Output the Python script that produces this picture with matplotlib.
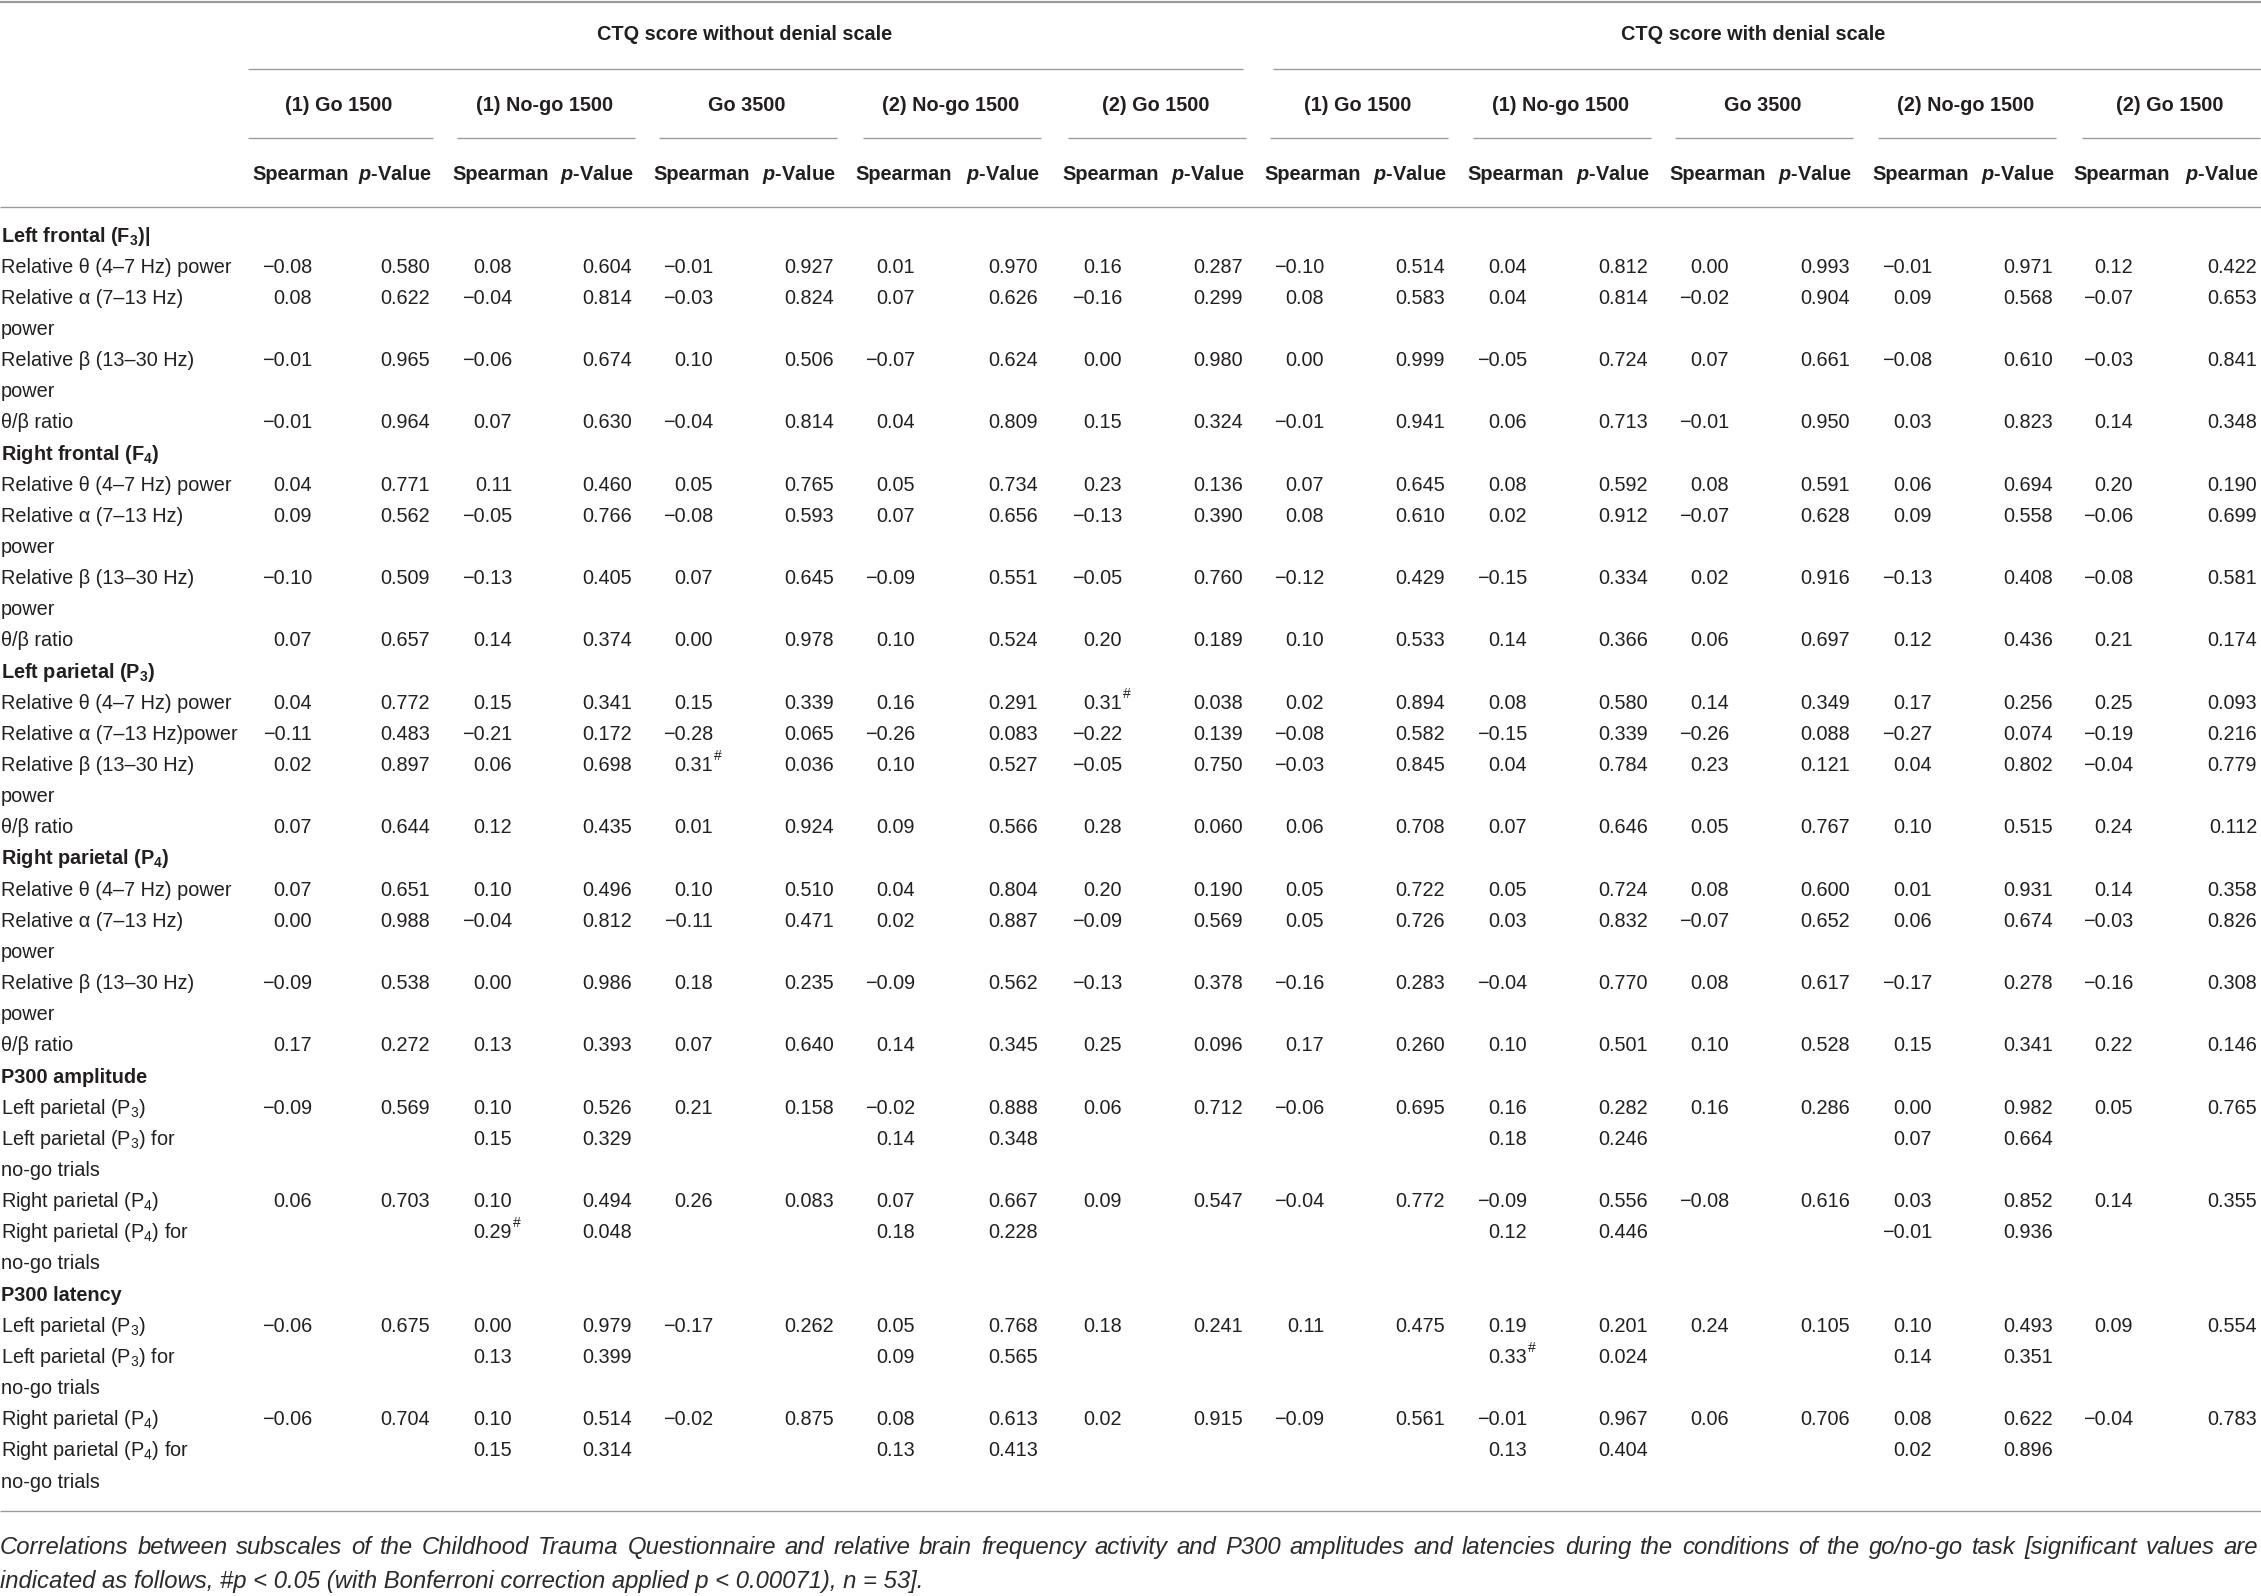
import matplotlib
matplotlib.use("Agg")
import matplotlib.pyplot as plt

# ---------------- data ----------------
groups = ["CTQ score without denial scale", "CTQ score with denial scale"]
conditions = ["(1) Go 1500", "(1) No-go 1500", "Go 3500", "(2) No-go 1500", "(2) Go 1500",
              "(1) Go 1500", "(1) No-go 1500", "Go 3500", "(2) No-go 1500", "(2) Go 1500"]
sub_headers = ["Spearman", r"$\mathbfit{p}$-Value"]

section_titles = [r"Left frontal (F$_\mathbf{3}$)|", r"Right frontal (F$_\mathbf{4}$)",
                  r"Left parietal (P$_\mathbf{3}$)", r"Right parietal (P$_\mathbf{4}$)",
                  "P300 amplitude", "P300 latency"]

band_labels = [["Relative θ (4–7 Hz) power"], ["Relative α (7–13 Hz)", "power"],
               ["Relative β (13–30 Hz)", "power"], ["θ/β ratio"]]
band_labels_lp = [["Relative θ (4–7 Hz) power"], ["Relative α (7–13 Hz)power"],
                  ["Relative β (13–30 Hz)", "power"], ["θ/β ratio"]]
p300_labels = [[r"Left parietal (P$_3$)"], [r"Left parietal (P$_3$) for", "no-go trials"],
               [r"Right parietal (P$_4$)"], [r"Right parietal (P$_4$) for", "no-go trials"]]

left_frontal_rho = [
    [-0.08, 0.08, -0.01, 0.01, 0.16, -0.10, 0.04, 0.00, -0.01, 0.12],
    [0.08, -0.04, -0.03, 0.07, -0.16, 0.08, 0.04, -0.02, 0.09, -0.07],
    [-0.01, -0.06, 0.10, -0.07, 0.00, 0.00, -0.05, 0.07, -0.08, -0.03],
    [-0.01, 0.07, -0.04, 0.04, 0.15, -0.01, 0.06, -0.01, 0.03, 0.14]]
left_frontal_p = [
    [0.580, 0.604, 0.927, 0.970, 0.287, 0.514, 0.812, 0.993, 0.971, 0.422],
    [0.622, 0.814, 0.824, 0.626, 0.299, 0.583, 0.814, 0.904, 0.568, 0.653],
    [0.965, 0.674, 0.506, 0.624, 0.980, 0.999, 0.724, 0.661, 0.610, 0.841],
    [0.964, 0.630, 0.814, 0.809, 0.324, 0.941, 0.713, 0.950, 0.823, 0.348]]

right_frontal_rho = [
    [0.04, 0.11, 0.05, 0.05, 0.23, 0.07, 0.08, 0.08, 0.06, 0.20],
    [0.09, -0.05, -0.08, 0.07, -0.13, 0.08, 0.02, -0.07, 0.09, -0.06],
    [-0.10, -0.13, 0.07, -0.09, -0.05, -0.12, -0.15, 0.02, -0.13, -0.08],
    [0.07, 0.14, 0.00, 0.10, 0.20, 0.10, 0.14, 0.06, 0.12, 0.21]]
right_frontal_p = [
    [0.771, 0.460, 0.765, 0.734, 0.136, 0.645, 0.592, 0.591, 0.694, 0.190],
    [0.562, 0.766, 0.593, 0.656, 0.390, 0.610, 0.912, 0.628, 0.558, 0.699],
    [0.509, 0.405, 0.645, 0.551, 0.760, 0.429, 0.334, 0.916, 0.408, 0.581],
    [0.657, 0.374, 0.978, 0.524, 0.189, 0.533, 0.366, 0.697, 0.436, 0.174]]

left_parietal_rho = [
    [0.04, 0.15, 0.15, 0.16, 0.31, 0.02, 0.08, 0.14, 0.17, 0.25],
    [-0.11, -0.21, -0.28, -0.26, -0.22, -0.08, -0.15, -0.26, -0.27, -0.19],
    [0.02, 0.06, 0.31, 0.10, -0.05, -0.03, 0.04, 0.23, 0.04, -0.04],
    [0.07, 0.12, 0.01, 0.09, 0.28, 0.06, 0.07, 0.05, 0.10, 0.24]]
left_parietal_p = [
    [0.772, 0.341, 0.339, 0.291, 0.038, 0.894, 0.580, 0.349, 0.256, 0.093],
    [0.483, 0.172, 0.065, 0.083, 0.139, 0.582, 0.339, 0.088, 0.074, 0.216],
    [0.897, 0.698, 0.036, 0.527, 0.750, 0.845, 0.784, 0.121, 0.802, 0.779],
    [0.644, 0.435, 0.924, 0.566, 0.060, 0.708, 0.646, 0.767, 0.515, 0.112]]
left_parietal_sig = [(0, 4), (2, 2)]

right_parietal_rho = [
    [0.07, 0.10, 0.10, 0.04, 0.20, 0.05, 0.05, 0.08, 0.01, 0.14],
    [0.00, -0.04, -0.11, 0.02, -0.09, 0.05, 0.03, -0.07, 0.06, -0.03],
    [-0.09, 0.00, 0.18, -0.09, -0.13, -0.16, -0.04, 0.08, -0.17, -0.16],
    [0.17, 0.13, 0.07, 0.14, 0.25, 0.17, 0.10, 0.10, 0.15, 0.22]]
right_parietal_p = [
    [0.651, 0.496, 0.510, 0.804, 0.190, 0.722, 0.724, 0.600, 0.931, 0.358],
    [0.988, 0.812, 0.471, 0.887, 0.569, 0.726, 0.832, 0.652, 0.674, 0.826],
    [0.538, 0.986, 0.235, 0.562, 0.378, 0.283, 0.770, 0.617, 0.278, 0.308],
    [0.272, 0.393, 0.640, 0.345, 0.096, 0.260, 0.501, 0.528, 0.341, 0.146]]

N = None
p300_amp_rho = [
    [-0.09, 0.10, 0.21, -0.02, 0.06, -0.06, 0.16, 0.16, 0.00, 0.05],
    [N, 0.15, N, 0.14, N, N, 0.18, N, 0.07, N],
    [0.06, 0.10, 0.26, 0.07, 0.09, -0.04, -0.09, -0.08, 0.03, 0.14],
    [N, 0.29, N, 0.18, N, N, 0.12, N, -0.01, N]]
p300_amp_p = [
    [0.569, 0.526, 0.158, 0.888, 0.712, 0.695, 0.282, 0.286, 0.982, 0.765],
    [N, 0.329, N, 0.348, N, N, 0.246, N, 0.664, N],
    [0.703, 0.494, 0.083, 0.667, 0.547, 0.772, 0.556, 0.616, 0.852, 0.355],
    [N, 0.048, N, 0.228, N, N, 0.446, N, 0.936, N]]
p300_amp_sig = [(3, 1)]

p300_lat_rho = [
    [-0.06, 0.00, -0.17, 0.05, 0.18, 0.11, 0.19, 0.24, 0.10, 0.09],
    [N, 0.13, N, 0.09, N, N, 0.33, N, 0.14, N],
    [-0.06, 0.10, -0.02, 0.08, 0.02, -0.09, -0.01, 0.06, 0.08, -0.04],
    [N, 0.15, N, 0.13, N, N, 0.13, N, 0.02, N]]
p300_lat_p = [
    [0.675, 0.979, 0.262, 0.768, 0.241, 0.475, 0.201, 0.105, 0.493, 0.554],
    [N, 0.399, N, 0.565, N, N, 0.024, N, 0.351, N],
    [0.704, 0.514, 0.875, 0.613, 0.915, 0.561, 0.967, 0.706, 0.622, 0.783],
    [N, 0.314, N, 0.413, N, N, 0.404, N, 0.896, N]]
p300_lat_sig = [(1, 6)]

caption_line1 = ("Correlations between subscales of the Childhood Trauma Questionnaire and relative brain "
                 "frequency activity and P300 amplitudes and latencies during the conditions of the "
                 "go/no-go task [significant values are")
caption_line2 = ("indicated as follows, #p < 0.05 (with Bonferroni correction applied p < 0.00071), n = 53].")

sections = [
    (section_titles[0], band_labels, left_frontal_rho, left_frontal_p, []),
    (section_titles[1], band_labels, right_frontal_rho, right_frontal_p, []),
    (section_titles[2], band_labels_lp, left_parietal_rho, left_parietal_p, left_parietal_sig),
    (section_titles[3], band_labels, right_parietal_rho, right_parietal_p, []),
    (section_titles[4], p300_labels, p300_amp_rho, p300_amp_p, p300_amp_sig),
    (section_titles[5], p300_labels, p300_lat_rho, p300_lat_p, p300_lat_sig),
]

# ---------------- style / layout ----------------
FONT = "Liberation Sans"
plt.rcParams["font.family"] = [FONT, "DejaVu Sans"]
plt.rcParams["mathtext.fontset"] = "custom"
plt.rcParams["mathtext.rm"] = FONT
plt.rcParams["mathtext.it"] = FONT + ":italic"
plt.rcParams["mathtext.bf"] = FONT + ":bold"
plt.rcParams["mathtext.bfit"] = FONT + ":italic:bold"

TXT = "#231f20"
LINE = "#9a9a9a"
FS = 14.3
CAP_FS = 17.2
W, H = 2261, 1596

fig = plt.figure(figsize=(W / 100, H / 100), dpi=100)
ax = fig.add_axes([0, 0, 1, 1])
ax.set_xlim(0, W)
ax.set_ylim(H, 0)
ax.axis("off")

sp_right = [312, 512, 713, 915, 1122, 1324, 1527, 1729, 1932, 2133]
p_right = [430, 632, 834, 1038, 1243, 1445, 1648, 1850, 2053, 2257]
cond_left = [248] + [pr - 175 for pr in p_right[1:]]
group_span = [(248, 1243), (1273, 2261)]
group_center = [745, 1753]

CAP = 7.0


def put(x, yc, s, ha="left", weight="normal", style="normal", size=FS, color=TXT):
    return ax.text(x, yc + CAP * size / FS, s, ha=ha, va="baseline", fontsize=size,
                   fontweight=weight, fontstyle=style, color=color)


def hline(x0, x1, y, lw=0.95):
    ax.plot([x0, x1], [y, y], color=LINE, lw=lw, solid_capstyle="butt")


def fmt(v, nd):
    return f"{v:.{nd}f}".replace("-", "\u2212")


# header
hline(0, W, 2, lw=1.6)
for (x0, x1), xc, g in zip(group_span, group_center, groups):
    put(xc, 33, g, ha="center", weight="bold")
    hline(x0, x1, 68.5)
for i, c in enumerate(conditions):
    put((cond_left[i] + p_right[i]) / 2, 104, c, ha="center", weight="bold")
    hline(cond_left[i], min(p_right[i] + 3, W), 137.5)
    put(sp_right[i] + 37, 173, sub_headers[0], ha="right", weight="bold")
    put(p_right[i] + 2, 173, sub_headers[1], ha="right", weight="bold")
hline(0, W, 207)

# body
Y0, DY = 234.5, 31.15
row = 0
for title, labels, rho, pv, sig in sections:
    put(1, Y0 + row * DY, title, weight="bold")
    row += 1
    for k, lab in enumerate(labels):
        y = Y0 + row * DY
        for j, line in enumerate(lab):
            put(1, Y0 + (row + j) * DY, line)
        for c in range(10):
            if rho[k][c] is not None:
                put(sp_right[c], y, fmt(rho[k][c], 2), ha="right")
                if (k, c) in sig:
                    put(sp_right[c] + 1, y - 9, "#", size=10)
            if pv[k][c] is not None:
                put(p_right[c], y, fmt(pv[k][c], 3), ha="right")
        row += len(lab)

hline(0, W, 1511)

# caption (line 1 justified to full width)
CAP_COL = "#2b2b2b"
fig.canvas.draw()
renderer = fig.canvas.get_renderer()
words = caption_line1.split(" ")
objs = [put(0, 1546, w, style="italic", size=CAP_FS, color=CAP_COL) for w in words]
widths = [o.get_window_extent(renderer).width for o in objs]
gap = (W - 3 - sum(widths)) / (len(words) - 1)
x = 0.0
for o, w in zip(objs, widths):
    o.set_x(x)
    x += w + gap
put(0, 1580, caption_line2, style="italic", size=CAP_FS, color=CAP_COL)

fig.savefig("out.png", dpi=100)
